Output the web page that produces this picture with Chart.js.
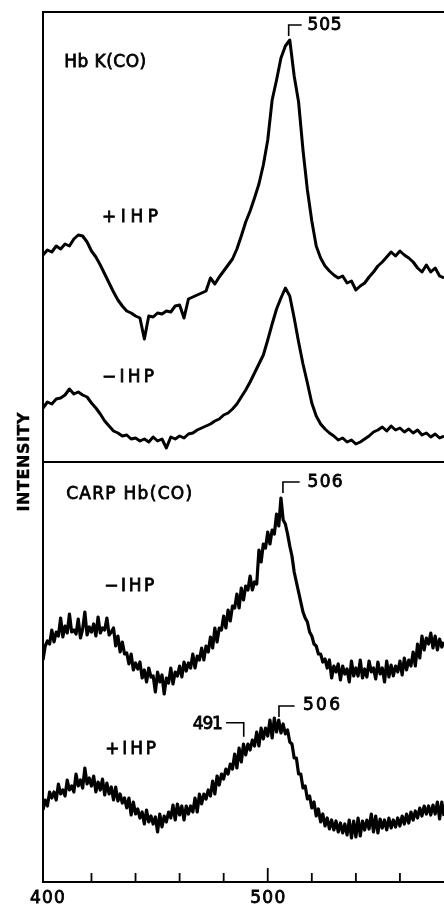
<!DOCTYPE html>
<html>
<head>
<meta charset="utf-8">
<script src="https://cdn.jsdelivr.net/npm/chart.js@4/dist/chart.umd.min.js"></script>
<style>
html,body{margin:0;padding:0;background:#fff;}
#wrap{width:444px;height:905px;position:relative;overflow:hidden;}
canvas{display:block;}
</style>
</head>
<body>
<div id="wrap"><canvas id="c" width="444" height="905"></canvas></div>
<script>
// ---- data (Raman shift, cm-1; intensity in arbitrary, offset units) ----
const wavenumbers = [
  398,400,402,404,406,408,410,412,414,416,
  418,420,422,424,426,428,430,432,434,436,
  438,440,442,444,446,448,450,452,454,456,
  458,460,462,464,466,468,470,472,474,476,
  478,480,482,484,486,488,490,492,494,496,
  498,500,502,504,506,508,510,512,514,516,
  518,520,522,524,526,528,530,532,534,536,
  538,540,542,544,546,548,550,552,554,556,
  558,560,562,564,566,568,570,572,574,576,
  578,580
];
const wavenumbersFine = [
  398,399,400,401,402,403,404,405,406,407,
  408,409,410,411,412,413,414,415,416,417,
  418,419,420,421,422,423,424,425,426,427,
  428,429,430,431,432,433,434,435,436,437,
  438,439,440,441,442,443,444,445,446,447,
  448,449,450,451,452,453,454,455,456,457,
  458,459,460,461,462,463,464,465,466,467,
  468,469,470,471,472,473,474,475,476,477,
  478,479,480,481,482,483,484,485,486,487,
  488,489,490,491,492,493,494,495,496,497,
  498,499,500,501,502,503,504,505,506,507,
  508,509,510,511,512,513,514,515,516,517,
  518,519,520,521,522,523,524,525,526,527,
  528,529,530,531,532,533,534,535,536,537,
  538,539,540,541,542,543,544,545,546,547,
  548,549,550,551,552,553,554,555,556,557,
  558,559,560,561,562,563,564,565,566,567,
  568,569,570,571,572,573,574,575,576,577,
  578,579,580
];
const hbkPlusIHP = [
  627,632,630,636,633,638,636,643,647,646,
  640,631,625,617,608,599,590,582,576,571,
  569,566,564,543,566,565,569,568,571,570,
  576,577,564,583,585,587,589,591,604,598,
  605,611,617,623,633,646,660,671,684,698,
  717,742,782,802,824,836,842,806,780,732,
  692,661,636,624,616,611,607,604,606,599,
  601,592,596,599,605,610,616,620,625,630,
  626,631,627,624,620,614,610,617,610,614,
  606,604
];
const hbkMinusIHP = [
  474,480,478,483,484,487,493,488,490,487,
  485,479,474,468,461,456,451,449,446,447,
  443,444,441,443,440,445,441,443,434,445,
  443,446,444,448,449,452,454,456,458,461,
  463,467,469,473,478,485,492,500,509,518,
  527,542,558,573,584,594,586,564,540,518,
  499,479,466,458,453,449,446,442,444,440,
  442,438,440,443,446,450,452,455,451,456,
  452,454,450,453,449,452,447,449,445,448,
  444,446
];
const carpMinusIHP = [
  222,236,241,238,252,240,250,246,264,245,
  256,249,268,250,252,248,263,244,253,270,
  247,255,250,258,246,265,249,254,252,264,
  247,250,254,236,246,230,240,228,229,218,
  228,212,219,213,220,204,212,200,214,205,
  206,190,210,200,207,188,204,199,214,198,
  210,206,216,205,220,211,219,214,228,214,
  226,222,234,222,236,230,245,234,254,240,
  254,252,266,254,272,261,276,274,288,274,
  294,282,296,292,306,292,300,298,332,320,
  338,334,350,338,352,348,368,356,384,362,
  358,348,336,326,310,300,290,280,270,264,
  260,250,246,238,236,228,228,220,223,214,
  222,204,216,210,218,202,216,208,213,200,
  221,206,214,206,222,204,213,205,221,210,
  214,203,220,208,214,200,221,205,217,206,
  216,210,221,207,224,212,222,216,230,216,
  238,224,246,232,244,238,249,234,246,232,
  243,235,240
];
const carpPlusIHP = [
  72,82,76,90,84,90,82,98,88,92,
  86,102,92,96,90,108,96,102,94,114,
  98,104,96,106,90,100,92,103,87,99,
  88,95,82,95,81,88,79,84,74,84,
  67,80,68,73,64,70,58,72,60,66,
  58,65,50,68,55,66,60,70,64,77,
  62,78,67,76,62,76,68,76,70,84,
  70,88,78,88,83,92,86,101,88,106,
  97,108,103,113,108,118,113,128,114,134,
  120,138,127,138,132,142,136,150,136,154,
  143,154,146,162,144,164,150,162,149,158,
  148,152,140,138,124,124,108,108,94,96,
  83,86,74,80,66,73,60,68,56,64,
  53,62,52,61,50,59,49,58,47,62,
  44,61,45,64,46,61,52,62,53,68,
  50,66,49,63,54,62,52,64,54,62,
  55,64,56,66,58,68,59,70,62,71,
  64,74,66,76,68,76,67,77,68,80,
  63,80,66
];
const xTickValues = [420,440,460,480,500,520,540,560];
const xLabelValues = [400,500];
const xLabelTexts = ['400','500'];
const panelLines = [0,420,870];           // bottom axis, panel divider, top frame
const curveLabelTexts = ['Hb K(CO)','+IHP','\u2212IHP','CARP Hb(CO)','\u2212IHP','+IHP'];
const peakLabelTexts = ['505','506','506','491'];
const yTitle = 'INTENSITY';

// ---- layout / style (not data) ----
const FONT = '"DejaVu Sans", "Liberation Sans", Arial, sans-serif';
const curveLabelLayout = [
  {x:407.6, y:819, w:82},
  {x:424.8, y:664, w:56},
  {x:424.8, y:504, w:52},
  {x:408.5, y:387, w:126},
  {x:425.8, y:295, w:50},
  {x:426.2, y:132, w:51}
];
const peakLabelLayout = [
  {path:[[509.5,846],[509.5,857],[515.4,857]], tx:518.1, ty:856, w:34, align:'left'},
  {path:[[506.9,389],[506.9,400],[514.5,400]], tx:518.1, ty:399, w:35, align:'left'},
  {path:[[505.1,165],[505.1,176],[512.2,176]], tx:516.0, ty:176, w:37, align:'left'},
  {path:[[481.1,159.3],[489.1,159.3],[489.1,145.3]], tx:479.6, ty:157, w:30, align:'right'}
];

function pts(xs, vals){ return xs.map((w,i)=>({x:w, y:vals[i]})); }

function drawSpaced(ctx, text, x, y, targetW, align){
  ctx.letterSpacing = '0px';
  const natural = ctx.measureText(text).width;
  const n = text.length;
  const s = n > 1 ? (targetW - natural) / (n - 1) : 0;
  ctx.letterSpacing = s.toFixed(2) + 'px';
  const left = align === 'center' ? x - targetW/2 : (align === 'right' ? x - targetW : x);
  ctx.textAlign = 'left';
  ctx.fillText(text, left, y);
  ctx.strokeText(text, left, y);
  ctx.letterSpacing = '0px';
}

const overlay = {
  id:'overlay',
  afterDraw(chart){
    const {ctx, chartArea} = chart;
    const x = chart.scales.x, y = chart.scales.y;
    ctx.save();
    ctx.strokeStyle = '#000';
    ctx.fillStyle = '#000';
    ctx.lineCap = 'butt';
    // inward tick marks
    ctx.lineWidth = 1.8;
    xTickValues.forEach(v=>{
      const px = x.getPixelForValue(v);
      const len = v === 500 ? 14 : 9;
      ctx.beginPath();
      ctx.moveTo(px, chartArea.bottom);
      ctx.lineTo(px, chartArea.bottom - len);
      ctx.stroke();
    });
    ctx.textBaseline = 'middle';
    // tick labels
    ctx.font = '17px ' + FONT;
    ctx.lineWidth = 0.8;
    xLabelValues.forEach((v,i)=>{
      drawSpaced(ctx, xLabelTexts[i], x.getPixelForValue(v), chartArea.bottom + 17, 35, 'center');
    });
    // curve labels
    ctx.font = '17px ' + FONT;
    curveLabelTexts.forEach((t,i)=>{
      const L = curveLabelLayout[i];
      drawSpaced(ctx, t, x.getPixelForValue(L.x), y.getPixelForValue(L.y), L.w, 'left');
    });
    // peak markers
    peakLabelTexts.forEach((t,i)=>{
      const L = peakLabelLayout[i];
      ctx.lineWidth = 1.6;
      ctx.beginPath();
      L.path.forEach((p,j)=>{
        const px = x.getPixelForValue(p[0]), py = y.getPixelForValue(p[1]);
        if (j===0) ctx.moveTo(px,py); else ctx.lineTo(px,py);
      });
      ctx.stroke();
      ctx.lineWidth = 0.8;
      ctx.font = '17px ' + FONT;
      drawSpaced(ctx, t, x.getPixelForValue(L.tx), y.getPixelForValue(L.ty), L.w, L.align);
    });
    // y title
    ctx.save();
    ctx.translate(24.5, 462);
    ctx.rotate(-Math.PI/2);
    ctx.font = 'bold 16px ' + FONT;
    ctx.lineWidth = 0.4;
    drawSpaced(ctx, yTitle, 0, 0, 99, 'center');
    ctx.restore();
    ctx.restore();
  }
};

const lineDs = (label, xs, vals, w) => ({
  label, data: pts(xs, vals), borderColor:'#000', borderWidth:w,
  pointRadius:0, tension:0, fill:false, borderJoinStyle:'round'
});

new Chart(document.getElementById('c'), {
  type:'line',
  data:{ datasets:[
    lineDs('HbK(CO) +IHP', wavenumbers, hbkPlusIHP, 3),
    lineDs('HbK(CO) -IHP', wavenumbers, hbkMinusIHP, 3),
    lineDs('CARP Hb(CO) -IHP', wavenumbersFine, carpMinusIHP, 3.2),
    lineDs('CARP Hb(CO) +IHP', wavenumbersFine, carpPlusIHP, 3.2)
  ]},
  options:{
    responsive:false, animation:false, devicePixelRatio:1,
    layout:{padding:{left:43, top:12, right:0, bottom:23}},
    plugins:{legend:{display:false}, tooltip:{enabled:false}, title:{display:false}},
    scales:{
      x:{type:'linear', min:398, max:580,
         grid:{display:false, drawTicks:false},
         ticks:{display:false},
         border:{display:true, color:'#000', width:2}},
      y:{type:'linear', min:0, max:870,
         afterBuildTicks:(s)=>{ s.ticks = panelLines.map(v=>({value:v})); },
         grid:{color:'#000', lineWidth:2, drawTicks:false},
         ticks:{display:false},
         border:{display:true, color:'#000', width:2}}
    }
  },
  plugins:[overlay]
});
</script>
</body>
</html>
